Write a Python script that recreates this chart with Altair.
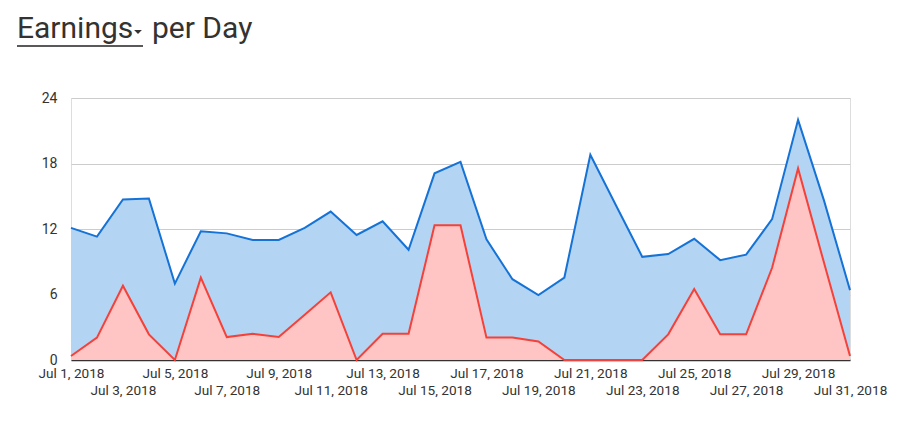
import altair as alt
import pandas as pd

days = list(range(1, 32))
earnings_total = [12.1, 11.3, 14.7, 14.8, 7.0, 11.8, 11.6, 11.0, 11.0, 12.1,
                  13.6, 11.45, 12.7, 10.1, 17.1, 18.15, 11.05, 7.4, 5.95, 7.55,
                  18.8, 14.1, 9.45, 9.7, 11.1, 9.15, 9.65, 12.9, 22.0, 14.6, 6.4]
earnings_part = [0.37, 2.05, 6.8, 2.35, 0.0, 7.55, 2.1, 2.4, 2.1, 4.15,
                 6.2, 0.0, 2.4, 2.4, 12.35, 12.35, 2.05, 2.05, 1.7, 0.0,
                 0.0, 0.0, 0.0, 2.35, 6.5, 2.35, 2.35, 8.45, 17.55, 8.9, 0.37]
y_ticks = [0, 6, 12, 18, 24]

dates = [f"2018-07-{d:02d}" for d in days]
df = pd.DataFrame({"date": dates, "total": earnings_total, "part": earnings_part})

tick_values = [int(pd.Timestamp(f"2018-07-{d:02d}", tz="UTC").value // 10**6) for d in days if d % 2 == 1]

FONT = "Roboto"
W, H = 779, 262

x_enc = alt.X(
    "date:T",
    scale=alt.Scale(type="utc", nice=False, padding=0),
    axis=alt.Axis(
        title=None, values=tick_values,
        labelExpr="utcdate(datum.value) % 4 == 3 ? ['', utcFormat(datum.value, '%b %-d, %Y')] : utcFormat(datum.value, '%b %-d, %Y')",
        labelOverlap=False, labelBound=False, labelFlush=False,
        grid=False, ticks=False, domain=True, domainColor="#333333", domainWidth=1.5,
        labelFont=FONT, labelFontSize=13.6, labelColor="#333333", labelPadding=6,
        labelLineHeight=17,
    ),
)
y_enc_total = alt.Y(
    "total:Q",
    scale=alt.Scale(domain=[0, 24], nice=False),
    axis=alt.Axis(
        title=None, values=y_ticks, grid=True, gridColor="#cccccc", ticks=False,
        domain=False, labelFont=FONT, labelFontSize=14, labelColor="#333333",
        labelPadding=14,
    ),
)

base = alt.Chart(df)

blue = base.mark_area(
    color="#b3d4f2", line={"color": "#1572d6", "strokeWidth": 2}, opacity=1
).encode(x=x_enc, y=y_enc_total)

red = base.mark_area(
    color="#ffc4c4", line={"color": "#f4413a", "strokeWidth": 2}, opacity=1
).encode(x=x_enc, y=alt.Y("part:Q"))

title_df = pd.DataFrame({"t": ["Earnings", "per Day"], "px": [-54, 81]})
title = alt.Chart(title_df).mark_text(
    font=FONT, fontSize=30, color="#333333", align="left", baseline="alphabetic"
).encode(x=alt.X("px:Q", scale=None), y=alt.value(-60), text="t:N")

underline = alt.Chart(pd.DataFrame({"a": [0]})).mark_rule(
    color="#222222", strokeWidth=1.5
).encode(x=alt.value(-54), x2=alt.value(72), y=alt.value(-52))

caret = alt.Chart(pd.DataFrame({"a": [0]})).mark_point(
    shape="M-1,-0.5L1,-0.5L0,0.5Z", filled=True, color="#333333", size=60,
    opacity=1, strokeWidth=0
).encode(x=alt.value(67), y=alt.value(-66))

chart = alt.layer(blue, red, title, underline, caret).properties(
    width=W, height=H,
    autosize=alt.AutoSizeParams(type="none"),
    padding={"left": 63, "top": 90, "right": 58, "bottom": 55},
).configure_view(stroke=None).configure(background="white")

chart.save("out.html", embed_options={"renderer": "svg", "actions": False})
